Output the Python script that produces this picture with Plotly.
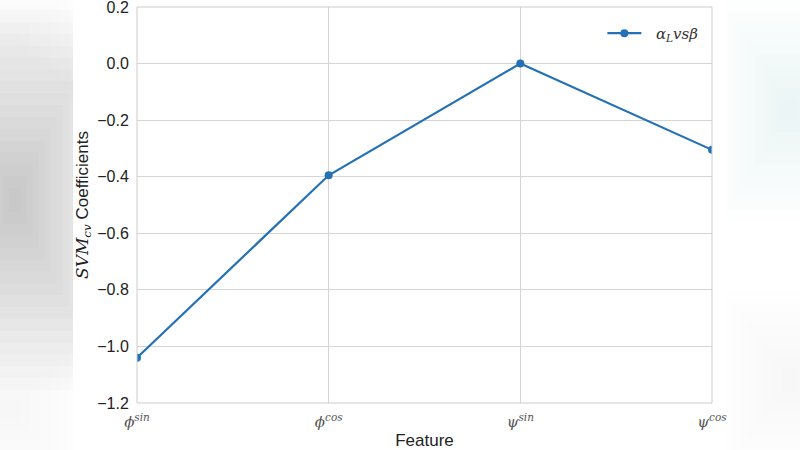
import plotly.graph_objects as go

SERIF = "DejaVu Serif, serif"
features = [
    "<i>ϕ<sup>sin</sup></i>",
    "<i>ϕ<sup>cos</sup></i>",
    "<i>ψ<sup>sin</sup></i>",
    "<i>ψ<sup>cos</sup></i>",
]
coefficients = [-1.04, -0.395, 0.0, -0.305]
series_name = "\u00a0\u00a0<i>α<sub>L</sub>vsβ</i>"
y_ticks = [0.2, 0.0, -0.2, -0.4, -0.6, -0.8, -1.0, -1.2]

L, R, T, B = 137, 712, 7, 403
W, H = 800, 450


def px_x(p):
    return (p - L) / (R - L)


def px_y(p):
    return (B - p) / (B - T)


fig = go.Figure()
fig.add_trace(go.Scatter(
    x=list(range(len(features))), y=coefficients,
    mode="lines+markers", name=series_name,
    line=dict(color="#2471b5", width=2.2),
    marker=dict(size=8, color="#2471b5"),
))

shapes = []


def blob(cx, cy, rx, ry, color, steps, op, xmin, xmax):
    for i in range(steps):
        f = 1 - i / steps
        shapes.append(dict(type="rect", xref="paper", yref="paper",
                           x0=px_x(max(cx - rx * f, xmin)), x1=px_x(min(cx + rx * f, xmax)),
                           y0=px_y(cy + ry * f), y1=px_y(cy - ry * f),
                           fillcolor=color, opacity=op, line=dict(width=0), layer="below"))


# soft blurred side backgrounds (approximation of the reference's blurred surround)
blob(15, 200, 95, 190, "#909090", 16, 0.04, 0, 73)
blob(10, 40, 80, 60, "#c0c0c0", 8, 0.02, 0, 73)
blob(10, 410, 80, 80, "#c0c0c0", 8, 0.02, 0, 73)
blob(790, 110, 70, 110, "#b8c6d8", 10, 0.025, 727, 800)
blob(790, 380, 70, 90, "#c8d0dc", 8, 0.02, 727, 800)

shapes.append(dict(type="rect", xref="paper", yref="paper", x0=0, x1=1, y0=0, y1=1,
                   line=dict(color="#cccccc", width=1), fillcolor="rgba(0,0,0,0)", layer="above"))

fig.update_layout(
    width=W, height=H,
    margin=dict(l=L, r=W - R, t=T, b=H - B),
    paper_bgcolor="white", plot_bgcolor="white",
    font=dict(family="Liberation Sans, Arial, sans-serif", size=16, color="#222222"),
    shapes=shapes,
    showlegend=True,
    legend=dict(x=0.985, y=0.975, xanchor="right", yanchor="top", itemwidth=34,
                bgcolor="rgba(0,0,0,0)", font=dict(family=SERIF, size=15, color="#333333")),
    xaxis=dict(
        tickmode="array", tickvals=list(range(len(features))), ticktext=features,
        range=[0, 3], showgrid=True, gridcolor="#d5d5d5", gridwidth=1,
        zeroline=False, showline=False, automargin=False,
        ticks="outside", ticklen=5, tickcolor="rgba(0,0,0,0)",
        tickfont=dict(family=SERIF, size=15, color="#555555"),
        ticklabeloverflow="allow",
        title=dict(text="Feature", font=dict(size=17), standoff=11),
    ),
    yaxis=dict(
        tickmode="array", tickvals=y_ticks, tickformat=".1f",
        range=[-1.2, 0.2], showgrid=True, gridcolor="#d5d5d5", gridwidth=1,
        zeroline=False, showline=False, automargin=False,
        ticks="outside", ticklen=4, tickcolor="rgba(0,0,0,0)",
        tickfont=dict(size=16, color="#222222"),
        ticklabeloverflow="allow",
        title=dict(text="<span style='font-family:DejaVu Serif'><i>SVM<sub>cv</sub></i></span> Coefficients",
                   font=dict(size=17), standoff=4),
    ),
)

fig.write_html("out.html", config={"displayModeBar": False},
               post_script="document.body.style.margin='0';document.documentElement.style.margin='0';")
